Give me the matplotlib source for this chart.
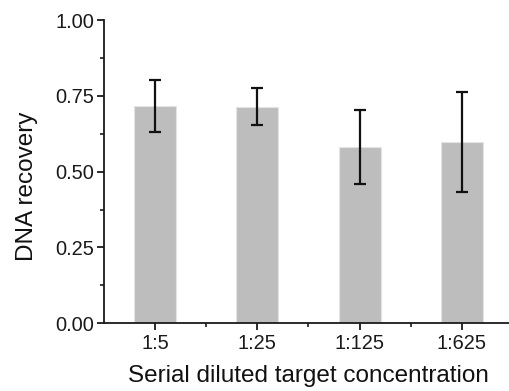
import matplotlib
matplotlib.use('Agg')
import matplotlib.pyplot as plt
from matplotlib.ticker import MultipleLocator, FixedLocator

categories = ['1:5', '1:25', '1:125', '1:625']
recovery = [0.717, 0.714, 0.582, 0.598]
recovery_err = [0.085, 0.061, 0.122, 0.166]

plt.rcParams['font.family'] = ['Liberation Sans', 'DejaVu Sans']

fig = plt.figure(figsize=(5.10, 3.91), dpi=100)
ax = fig.add_axes([104 / 510, 1 - 323.3 / 391, 409 / 510, 303.3 / 391])

x = list(range(1, len(categories) + 1))
ax.bar(x, recovery, width=0.41, color='#bdbdbd', edgecolor='#e4e4e4', linewidth=0.8,
       zorder=1)
ax.errorbar(x, recovery, yerr=recovery_err, fmt='none', ecolor='#111111',
            elinewidth=1.6, capsize=4.5, capthick=1.6, zorder=2)

ax.set_xlim(0.5, 4.5)
ax.set_ylim(0, 1.0)
ax.set_xticks(x)
ax.set_xticklabels(categories)
ax.xaxis.set_minor_locator(FixedLocator([1.5, 2.5, 3.5]))
ax.yaxis.set_major_locator(MultipleLocator(0.25))
ax.yaxis.set_minor_locator(MultipleLocator(0.125))
ax.yaxis.set_major_formatter(plt.FuncFormatter(lambda v, p: f'{v:.2f}'))

for side in ['top', 'right']:
    ax.spines[side].set_visible(False)
for side in ['left', 'bottom']:
    ax.spines[side].set_linewidth(1.3)
    ax.spines[side].set_color('#1a1a1a')

ax.tick_params(axis='both', which='major', direction='out', length=5, width=1.3,
               labelsize=14.4, colors='#1a1a1a', labelcolor='#1a1a1a')
ax.tick_params(axis='both', which='minor', direction='out', length=3, width=1.2,
               colors='#1a1a1a')
ax.tick_params(axis='x', pad=3)
ax.tick_params(axis='y', pad=2)

ax.set_xlabel('Serial diluted target concentration', fontsize=17.5, color='#111111')
ax.set_ylabel('DNA recovery', fontsize=17.5, color='#111111')
ax.xaxis.set_label_coords(0.5, -0.138)
ax.yaxis.set_label_coords(-0.161, 0.453)

fig.savefig('out.png', dpi=100)
